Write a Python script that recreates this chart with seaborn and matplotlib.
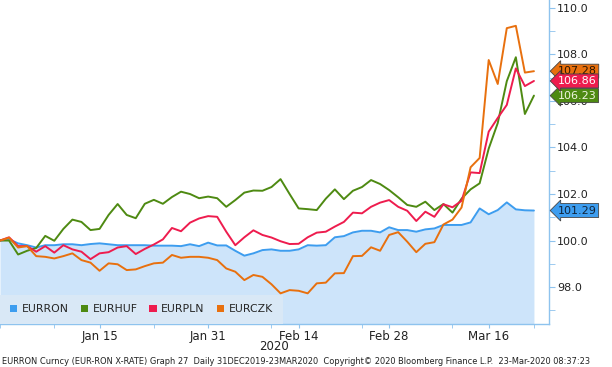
import numpy as np
import pandas as pd
import matplotlib
matplotlib.use("Agg")
import matplotlib.pyplot as plt
import matplotlib.transforms as mtransforms
from matplotlib.patches import Patch
import seaborn as sns

# business days 31 Dec 2019 .. 23 Mar 2020
dates = pd.bdate_range("2019-12-31", "2020-03-23")

eurron = [100.0, 100.05, 99.88, 99.8, 99.7, 99.8, 99.8, 99.84, 99.84, 99.8,
          99.85, 99.88, 99.84, 99.8, 99.8, 99.8, 99.8, 99.78, 99.78, 99.78,
          99.76, 99.84, 99.76, 99.91, 99.79, 99.79, 99.56, 99.35, 99.45, 99.59,
          99.62, 99.56, 99.56, 99.62, 99.8, 99.78, 99.8, 100.14, 100.19, 100.35,
          100.42, 100.42, 100.35, 100.57, 100.45, 100.45, 100.38, 100.48, 100.52, 100.67,
          100.67, 100.67, 100.78, 101.38, 101.13, 101.31, 101.64, 101.34, 101.30, 101.29]

eurhuf = [100.0, 100.0, 99.4, 99.56, 99.68, 100.2, 99.99, 100.5, 100.9, 100.8,
          100.45, 100.5, 101.1, 101.57, 101.1, 100.96, 101.58, 101.75, 101.58, 101.87,
          102.1, 102.0, 101.82, 101.89, 101.82, 101.45, 101.74, 102.06, 102.15, 102.14,
          102.3, 102.64, 102.0, 101.38, 101.35, 101.31, 101.8, 102.2, 101.78, 102.14,
          102.3, 102.6, 102.43, 102.17, 101.86, 101.53, 101.45, 101.67, 101.31, 101.57,
          101.2, 101.8, 102.2, 102.46, 103.95, 105.05, 106.85, 107.88, 105.44, 106.23]

eurpln = [100.0, 100.14, 99.76, 99.76, 99.52, 99.76, 99.48, 99.8, 99.62, 99.52,
          99.2, 99.45, 99.5, 99.7, 99.76, 99.42, 99.64, 99.83, 100.05, 100.54,
          100.4, 100.77, 100.95, 101.05, 101.02, 100.38, 99.8, 100.14, 100.44, 100.24,
          100.13, 99.97, 99.85, 99.86, 100.14, 100.34, 100.38, 100.6, 100.8, 101.2,
          101.17, 101.45, 101.63, 101.74, 101.45, 101.28, 100.84, 101.24, 101.02, 101.56,
          101.43, 101.71, 102.93, 102.9, 104.68, 105.27, 105.83, 107.4, 106.64, 106.86]

eurczk = [100.0, 100.12, 99.7, 99.76, 99.33, 99.3, 99.23, 99.33, 99.45, 99.16,
          99.05, 98.7, 99.02, 98.98, 98.73, 98.76, 98.9, 99.02, 99.05, 99.38,
          99.26, 99.3, 99.3, 99.26, 99.16, 98.8, 98.66, 98.3, 98.52, 98.44,
          98.12, 97.73, 97.87, 97.84, 97.73, 98.16, 98.19, 98.59, 98.6, 99.33,
          99.34, 99.71, 99.56, 100.24, 100.36, 99.95, 99.5, 99.86, 99.93, 100.69,
          100.9, 101.42, 103.15, 103.55, 107.76, 106.73, 109.13, 109.23, 107.22, 107.28]

series_names = ["EURRON", "EURHUF", "EURPLN", "EURCZK"]
colors = ["#3d9def", "#4e8a12", "#ee1c4e", "#e8700e"]
last_labels = ["101.29", "106.23", "106.86", "107.28"]
tick_dates = ["2020-01-15", "2020-01-31", "2020-02-14", "2020-02-28", "2020-03-16"]
tick_names = ["Jan 15", "Jan 31", "Feb 14", "Feb 28", "Mar 16"]
minor_dates = ["2019-12-31", "2020-01-08", "2020-01-23", "2020-02-11", "2020-02-25",
               "2020-03-10", "2020-03-23"]

pos = np.arange(len(dates))
wide = pd.DataFrame({"pos": pos, "EURRON": eurron, "EURHUF": eurhuf,
                     "EURPLN": eurpln, "EURCZK": eurczk})
df = wide.melt(id_vars="pos", var_name="series", value_name="value")

sns.set_style("white")
plt.rcParams["font.family"] = ["DejaVu Sans"]

fig = plt.figure(figsize=(6.12, 3.67), dpi=100)
ax = fig.add_axes([0.0, 0.117, 0.897, 0.883])

ax.fill_between(pos, eurron, 90, color="#cde4fa", lw=0, zorder=1)
sns.lineplot(data=df, x="pos", y="value", hue="series", hue_order=series_names,
             palette=colors, linewidth=1.4, legend=False, ax=ax, zorder=3)

ax.set_xlim(0, 60.66)
ax.set_ylim(96.41, 110.34)
ax.set_xlabel("")
ax.set_ylabel("")

# y axis on the right
ax.yaxis.tick_right()
ax.set_yticks([98, 100, 102, 104, 106, 108, 110])
ax.set_yticklabels([f"{v:.1f}" for v in [98, 100, 102, 104, 106, 108, 110]])
ax.set_yticks(np.arange(97, 111, 2), minor=True)

date_pos = {d.strftime("%Y-%m-%d"): i for i, d in enumerate(dates)}
ax.set_xticks([date_pos[d] for d in tick_dates])
ax.set_xticklabels(tick_names)
ax.set_xticks([date_pos[d] for d in minor_dates], minor=True)

axis_col = "#8ec3ee"
for s in ["left", "top"]:
    ax.spines[s].set_visible(False)
for s in ["right", "bottom"]:
    ax.spines[s].set_color(axis_col)
    ax.spines[s].set_linewidth(1.0)
ax.tick_params(axis="y", which="both", direction="out", length=4, color=axis_col,
               labelsize=8, labelcolor="#222222", pad=2, right=True)
ax.tick_params(axis="x", which="both", direction="out", length=3, color=axis_col,
               labelsize=8.5, labelcolor="#222222", pad=1, bottom=True)

ax.text(0.5, -0.048, "2020", transform=ax.transAxes, ha="center", va="top",
        fontsize=8.5, color="#222222")

# last value badges on the right
trans = mtransforms.blended_transform_factory(ax.transAxes, ax.transData)
badge_text = ["#10243a", "#f0f5e0", "#ffffff", "#2a1500"]
order = [3, 0, 1, 2]
last_vals = [eurron[-1], eurhuf[-1], eurpln[-1], eurczk[-1]]
for k, i in enumerate(order):
    ax.text(1.016, last_vals[i], last_labels[i], transform=trans, ha="left", va="center",
            fontsize=8, color=badge_text[i], zorder=10 + k, clip_on=False,
            bbox=dict(boxstyle="larrow,pad=0.18", fc=colors[i], ec="#444444", lw=0.6))

handles = [Patch(facecolor=c, edgecolor="none", label=n) for n, c in zip(series_names, colors)]
leg = ax.legend(handles=handles, loc="lower left", ncol=4, frameon=True,
                fontsize=7.8, handlelength=0.7, handleheight=0.7, handletextpad=0.4,
                columnspacing=1.1, borderaxespad=0.0, borderpad=0.9)
leg.get_frame().set_facecolor("#d9e8f6")
leg.get_frame().set_edgecolor("none")
leg.get_frame().set_alpha(1.0)
leg.get_frame().set_boxstyle("square", pad=0)
leg.set_zorder(5)

fig.text(0.004, 0.004,
         "EURRON Curncy (EUR-RON X-RATE) Graph 27  Daily 31DEC2019-23MAR2020  "
         "Copyright\u00a9 2020 Bloomberg Finance L.P.  23-Mar-2020 08:37:23",
         ha="left", va="bottom", fontsize=5.95, color="#222222")

fig.savefig("out.png", dpi=100)
